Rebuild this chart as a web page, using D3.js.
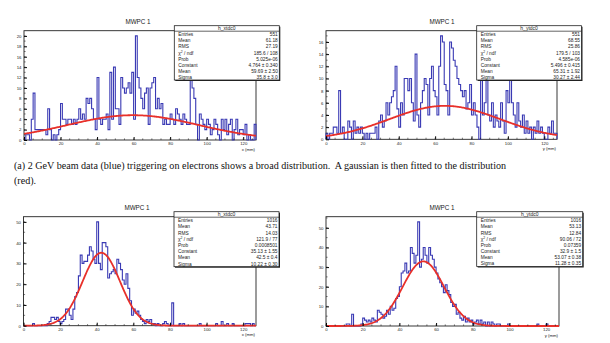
<!DOCTYPE html>
<html>
<head>
<meta charset="utf-8">
<script src="https://cdn.jsdelivr.net/npm/d3@7"></script>
<style>
  body { margin: 0; background: #fff; }
  svg text { font-family: "Liberation Sans", Arial, sans-serif; }
  .caption { font-family: "Liberation Serif", "Times New Roman", serif; white-space: pre; }
</style>
</head>
<body>
<div id="chart"></div>
<script>
// bin contents, 1 mm bins from 0 to 127
const binsX1 = [
  0,1,1,0,4,9,2,2,2,2, 2,2,1,6,2,0,1,0,1,2, 7,4,4,3,4,4,3,4,3,4,
  6,4,5,4,8,7,8,6,4,2, 12,4,3,4,4,5,2,13,4,14, 6,6,3,12,10,9,10,11,9,13,
  4,20,12,10,8,6,9,10,3,10, 11,12,6,8,6,7,3,4,3,3, 5,4,3,6,5,4,3,5,4,3,
  3,12,10,8,3,0,5,4,3,2, 4,3,1,2,4,3,1,0,4,2, 4,1,3,4,0,2,4,1,2,2,
  1,3,0,1,0,0,3
];
const binsY1 = [
  1,0,1,1,2,2,1,8,1,2, 0,0,3,2,0,3,1,2,1,2, 1,0,1,0,1,1,1,2,0,3,
  4,2,3,6,4,6,7,8,12,5, 2,6,4,10,10,8,10,6,3,14, 4,2,6,8,10,9,4,10,12,8,
  7,4,12,17,16,9,8,4,16,15, 13,12,10,9,8,7,8,5,6,9, 4,6,4,2,0,10,4,6,12,4,
  3,6,2,4,3,2,6,3,1,8, 6,10,6,4,2,6,3,2,4,1, 3,1,2,0,2,1,3,1,2,1,
  0,0,2,1,3,1,1
];
const binsX2 = [
  0,0,0,0,0,1,0,0,0,0, 0,0,0,1,2,4,4,3,4,2, 1,2,3,8,8,5,3,8,14,16,
  24,34,30,31,31,34,38,36,32,30, 50,30,27,40,40,38,23,25,26,27, 25,32,30,27,22,20,25,18,12,5,
  8,6,7,5,3,2,1,3,2,3, 1,1,0,1,0,0,1,2,1,0, 0,11,0,0,0,1,0,1,0,0,
  0,0,0,0,0,0,1,0,0,0, 0,0,0,0,0,1,0,0,2,0, 0,1,0,0,1,0,0,0,0,0,
  0,1,1,1,0,1,0
];
const binsY2 = [
  0,0,0,0,0,0,0,0,0,0, 0,1,1,0,6,0,0,0,0,1, 4,3,2,3,2,4,3,2,8,7,
  6,4,5,8,6,10,8,9,14,15, 20,27,28,32,27,28,40,37,32,36, 53,30,34,40,36,32,40,36,34,30,
  27,24,22,20,17,21,18,16,12,10, 11,6,7,4,3,5,2,4,2,3, 1,2,3,1,3,1,2,0,2,0,
  2,1,0,1,1,0,0,0,0,1, 0,0,0,0,0,0,0,0,0,0, 0,0,0,0,0,1,0,0,0,0,
  1,0,0,0,0,0,0
];

// gaussian fits: [constant, mean, sigma]
const fitX1 = [4.764, 59.69, 35.8];
const fitY1 = [5.496, 65.31, 30.27];
const fitX2 = [35.13, 42.5, 10.22];
const fitY2 = [32.9, 53.07, 11.28];

const statLabels = ['Entries', 'Mean', 'RMS', 'chi2', 'Prob', 'Constant', 'Mean', 'Sigma'];
const statsX1 = ['551', '61.18', '27.19', '185.6 / 108', '5.025e-06', '4.764 \u00b1 0.340', '59.69 \u00b1 2.50', '35.8 \u00b1 3.0'];
const statsY1 = ['551', '68.55', '25.86', '179.5 / 103', '4.585e-06', '5.496 \u00b1 0.415', '65.31 \u00b1 1.92', '30.27 \u00b1 2.44'];
const statsX2 = ['1016', '43.71', '14.03', '121.9 / 77', '0.0008501', '35.13 \u00b1 1.55', '42.5 \u00b1 0.4', '10.22 \u00b1 0.30'];
const statsY2 = ['1016', '53.13', '12.84', '90.06 / 72', '0.07359', '32.9 \u00b1 1.5', '53.07 \u00b1 0.38', '11.28 \u00b1 0.35'];

const captionLines = [
  '(a) 2 GeV beam data (blue) triggering on electrons shows a broad distribution.  A gaussian is then fitted to the distribution',
  '(red).'
];

const svg = d3.select('#chart').append('svg')
  .attr('width', 610)
  .attr('height', 343);

class HistPanel {
  constructor(_config, _bins, _fit, _stats) {
    this.config = _config;
    this.bins = _bins;
    this.fit = _fit;
    this.stats = _stats;
    this.initVis();
  }

  initVis() {
    let vis = this;
    let c = vis.config;

    vis.g = svg.append('g');

    vis.xScale = d3.scaleLinear()
      .domain([0, vis.bins.length])
      .range([c.left, c.right]);

    vis.yScale = d3.scaleLinear()
      .domain([0, 1.05 * d3.max(vis.bins)])
      .range([c.bottom, c.top]);

    vis.renderVis();
  }

  renderVis() {
    let vis = this;
    let c = vis.config;

    // frame
    vis.g.append('rect')
      .attr('x', c.left).attr('y', c.top)
      .attr('width', c.right - c.left).attr('height', c.bottom - c.top)
      .attr('fill', 'none').attr('stroke', '#222').attr('stroke-width', 0.9);

    // histogram step line
    let pts = [[vis.xScale(0), vis.yScale(0)]];
    vis.bins.forEach((v, i) => {
      pts.push([vis.xScale(i), vis.yScale(v)]);
      pts.push([vis.xScale(i + 1), vis.yScale(v)]);
    });
    pts.push([vis.xScale(vis.bins.length), vis.yScale(0)]);
    vis.g.append('path')
      .attr('d', d3.line()(pts))
      .attr('fill', 'none')
      .attr('stroke', '#3a3ab4')
      .attr('stroke-width', 1.1);

    // gaussian fit
    let [A, mu, s] = vis.fit;
    let xs = d3.range(0, vis.bins.length + 0.01, 0.5);
    vis.g.append('path')
      .attr('d', d3.line()
        .x(x => vis.xScale(x))
        .y(x => vis.yScale(A * Math.exp(-0.5 * ((x - mu) / s) ** 2)))(xs))
      .attr('fill', 'none')
      .attr('stroke', '#e8302a')
      .attr('stroke-width', 1.8);

    // y axis (ticks point inward)
    let yAxis = d3.axisLeft(vis.yScale)
      .tickValues(d3.range(0, vis.yScale.domain()[1], c.yStep))
      .tickSize(-3)
      .tickPadding(2.5)
      .tickFormat(d3.format('d'));
    let ya = vis.g.append('g')
      .attr('transform', `translate(${c.left},0)`)
      .call(yAxis);
    ya.selectAll('text').attr('font-size', 4.3).attr('fill', '#222');
    ya.select('.domain').remove();
    vis.g.append('g').selectAll('line')
      .data(d3.range(0, vis.yScale.domain()[1], c.yStep / 2))
      .join('line')
      .attr('x1', c.left).attr('x2', c.left + 1.6)
      .attr('y1', d => vis.yScale(d)).attr('y2', d => vis.yScale(d))
      .attr('stroke', '#222').attr('stroke-width', 0.6);

    // x axis
    let xAxis = d3.axisBottom(vis.xScale)
      .tickValues(d3.range(0, 121, 20))
      .tickSize(-3)
      .tickPadding(2.2)
      .tickFormat(d3.format('d'));
    let xa = vis.g.append('g')
      .attr('transform', `translate(0,${c.bottom})`)
      .call(xAxis);
    xa.selectAll('text').attr('font-size', 4.3).attr('fill', '#222');
    xa.select('.domain').remove();
    vis.g.append('g').selectAll('line')
      .data(d3.range(0, vis.bins.length, 5))
      .join('line')
      .attr('x1', d => vis.xScale(d)).attr('x2', d => vis.xScale(d))
      .attr('y1', c.bottom).attr('y2', c.bottom - 1.6)
      .attr('stroke', '#222').attr('stroke-width', 0.6);

    vis.g.append('text')
      .attr('x', c.right - 1).attr('y', c.bottom + 10.5)
      .attr('text-anchor', 'end')
      .attr('font-size', 4.3)
      .attr('fill', '#222')
      .text(c.axisTitle);

    // title
    vis.g.append('text')
      .attr('x', c.titleX).attr('y', c.top - 7)
      .attr('text-anchor', 'middle')
      .attr('font-size', 6.3)
      .attr('fill', '#222')
      .text('MWPC 1');

    // stats box
    let b = c.box;
    vis.g.append('rect')
      .attr('x', b[0] + 1).attr('y', b[1] + 1)
      .attr('width', b[2] - b[0]).attr('height', b[3] - b[1])
      .attr('fill', '#222');
    vis.g.append('rect')
      .attr('x', b[0]).attr('y', b[1])
      .attr('width', b[2] - b[0]).attr('height', b[3] - b[1])
      .attr('fill', '#fff').attr('stroke', '#222').attr('stroke-width', 0.8);
    vis.g.append('line')
      .attr('x1', b[0]).attr('x2', b[2])
      .attr('y1', b[1] + 5.5).attr('y2', b[1] + 5.5)
      .attr('stroke', '#222').attr('stroke-width', 0.7);
    vis.g.append('text')
      .attr('x', (b[0] + b[2]) / 2).attr('y', b[1] + 4.6)
      .attr('text-anchor', 'middle')
      .attr('font-size', 5)
      .attr('fill', '#222')
      .text(c.histName);

    let rowH = (b[3] - b[1] - 5.5) / statLabels.length;
    statLabels.forEach((lab, i) => {
      let y = b[1] + 5.5 + rowH * (i + 0.82);
      let t = vis.g.append('text')
        .attr('x', b[0] + 4).attr('y', y)
        .attr('font-size', 4.8)
        .attr('fill', '#222');
      if (lab === 'chi2') {
        t.append('tspan').text('\u03c7');
        t.append('tspan').attr('dy', -2).attr('font-size', 3.4).text('2');
        t.append('tspan').attr('dy', 2).text(' / ndf');
      } else {
        t.text(lab);
      }
      vis.g.append('text')
        .attr('x', b[2] - 1.5).attr('y', y)
        .attr('text-anchor', 'end')
        .attr('font-size', 4.8)
        .attr('fill', '#222')
        .text(vis.stats[i]);
    });
  }
}

new HistPanel({left: 24, right: 256, top: 30.7, bottom: 140, yStep: 2, titleX: 138,
  axisTitle: 'x (mm)', histName: 'h_xtdc0', box: [174.3, 25.7, 279.3, 80]}, binsX1, fitX1, statsX1);
new HistPanel({left: 326, right: 557, top: 30.7, bottom: 139.3, yStep: 2, titleX: 442,
  axisTitle: 'y (mm)', histName: 'h_ytdc0', box: [476.7, 25.7, 581.5, 80]}, binsY1, fitY1, statsY1);
new HistPanel({left: 23.5, right: 256, top: 216.7, bottom: 325.7, yStep: 10, titleX: 137,
  axisTitle: 'x (mm)', histName: 'h_xtdc0', box: [174, 211.7, 279, 266.7]}, binsX2, fitX2, statsX2);
new HistPanel({left: 326, right: 559, top: 216.7, bottom: 326, yStep: 10, titleX: 442,
  axisTitle: 'y (mm)', histName: 'h_ytdc0', box: [476.7, 211.7, 582.7, 266.5]}, binsY2, fitY2, statsY2);

// caption
svg.selectAll('.caption')
  .data(captionLines)
  .join('text')
  .attr('class', 'caption')
  .attr('x', 14)
  .attr('y', (d, i) => 168.5 + i * 15.5)
  .attr('font-size', 10.1)
  .attr('fill', '#111')
  .text(d => d);
</script>
</body>
</html>
